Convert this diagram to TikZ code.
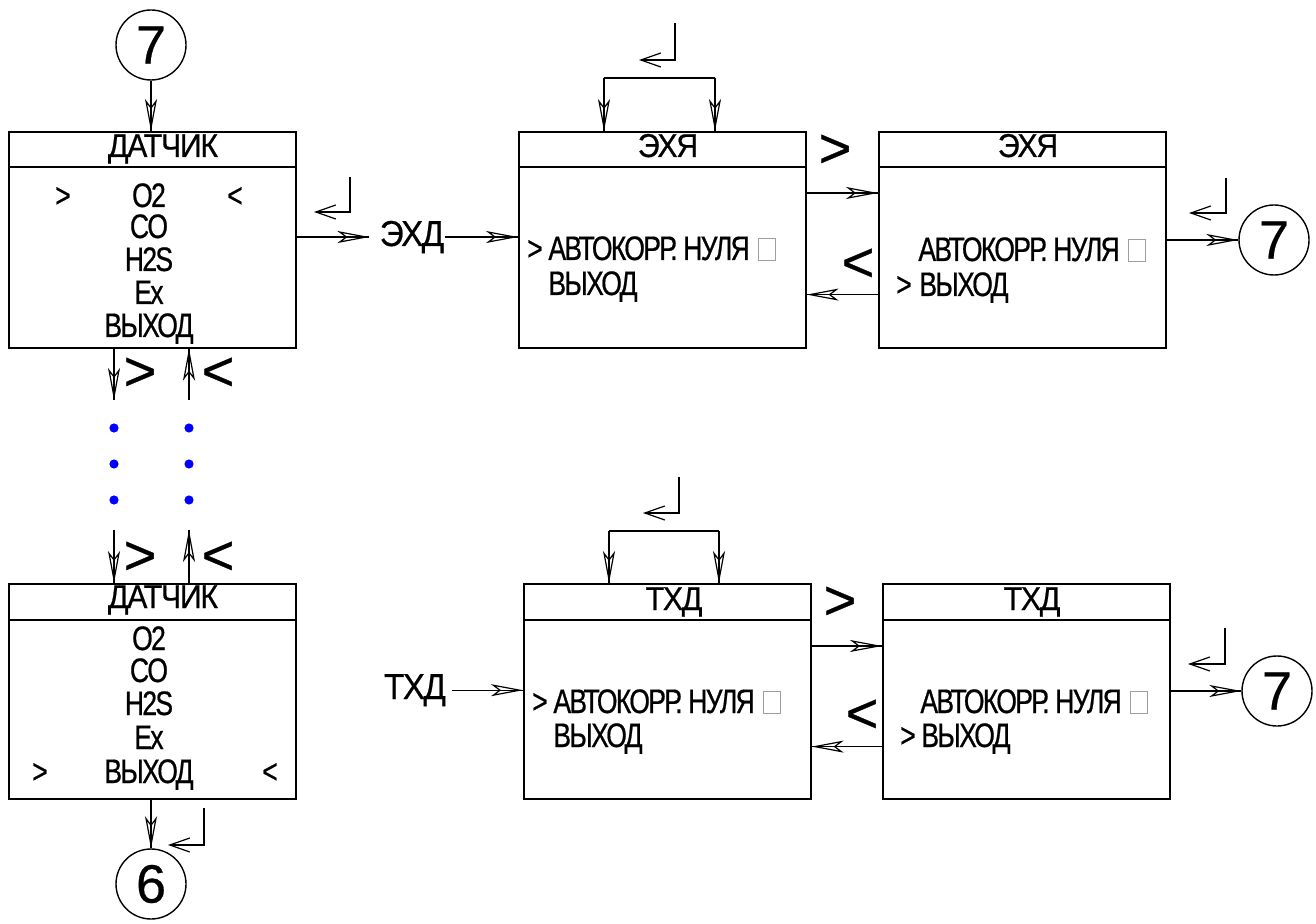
\documentclass[tikz,border=0pt]{standalone}
\usepackage{fontspec}
\setmainfont{Liberation Sans}
\newfontfamily\nf{Liberation Sans}[FakeStretch=0.78, LetterSpace=-5, FakeBold=0.6]
\newfontfamily\tf{Liberation Sans}[FakeStretch=0.92, LetterSpace=-4, FakeBold=0.6]
\newfontfamily\df{Liberation Sans}[FakeBold=0.5]
\usetikzlibrary{arrows.meta}
\newcommand\tofu{{\color{gray!75}\setlength\fboxsep{0pt}\setlength\fboxrule{0.55pt}\fbox{\rule{0pt}{10.5pt}\rule{8pt}{0pt}}}}
\begin{document}
\begin{tikzpicture}[x=0.5pt,y=-0.5pt,
  box/.style={draw, line width=0.8pt, inner sep=0pt, anchor=north west, minimum width=143.5pt},
  txt/.style={inner sep=0pt, font=\nf\fontsize{17}{17}\selectfont},
  ttl/.style={inner sep=0pt, anchor=base, font=\tf\fontsize{16.5}{16}\selectfont},
  lbl/.style={inner sep=0pt, anchor=base, font=\tf\fontsize{18}{18}\selectfont},
  big/.style={inner sep=0pt, font=\df\fontsize{28}{28}\selectfont},
  circ/.style={draw, circle, line width=0.7pt, minimum size=35pt, inner sep=0pt, font=\df\fontsize{27}{27}\selectfont},
  arr/.style={line width=0.7pt, -{Stealth[open, length=16pt, width=6pt, inset=4pt, line width=0.6pt]}, postaction={draw, line width=0.7pt, -}},
  ent/.style={line width=0.6pt, -{Straight Barb[length=10pt, width=7pt, line width=0.6pt]}},
  dot/.style={fill=blue}
]
\useasboundingbox (0,0) rectangle (1316,924);

% ---------- left column, top ----------
\node[circ] (c7a) at (151,45) {7};
\node[box, minimum height=17.5pt] (d1t) at (8,131) {};
\node[box, minimum height=90.5pt] (d1b) at (8,166) {};
\node[ttl] (d1ttl) at (163,157) {ДАТЧИК};
\node[txt, anchor=base] (d1a) at (149,207) {O2};
\node[txt, anchor=base] (d1b1) at (149,238) {CO};
\node[txt, anchor=base] (d1c) at (149,271) {H2S};
\node[txt, anchor=base] (d1d) at (149,304) {Ex};
\node[txt, anchor=base] (d1e) at (149,337) {ВЫХОД};
\node[txt, anchor=base] (d1gt) at (63,207) {>};
\node[txt, anchor=base] (d1lt) at (235,207) {<};
\draw[arr] (c7a.south) -- (c7a.south |- d1t.north);

% left column arrows and dots
\coordinate (dl1) at (114,400);
\coordinate (ul1) at (189,400);
\coordinate (dl2) at (114,530);
\coordinate (ul2) at (189,530);
\draw[arr] (dl1 |- d1b.south) -- (dl1);
\draw[arr] (ul1) -- (ul1 |- d1b.south);
\node[big] (g1) at (140,374) {>};
\node[big] (l1) at (218,374) {<};
\foreach \yy in {428,464,500} {
  \fill[dot] (114,\yy) circle (2.3pt);
  \fill[dot] (189,\yy) circle (2.3pt);
}
\node[box, minimum height=18pt] (d2t) at (8,583) {};
\node[box, minimum height=89.5pt] (d2b) at (8,619) {};
\draw[arr] (dl2) -- (dl2 |- d2t.north);
\draw[arr] (ul2 |- d2t.north) -- (ul2);
\node[big] (g2) at (140,558) {>};
\node[big] (l2) at (218,558) {<};
\node[ttl] (d2ttl) at (163,608) {ДАТЧИК};
\node[txt, anchor=base] (d2a) at (149,650) {O2};
\node[txt, anchor=base] (d2b1) at (149,682) {CO};
\node[txt, anchor=base] (d2c) at (149,715) {H2S};
\node[txt, anchor=base] (d2d) at (149,749) {Ex};
\node[txt, anchor=base] (d2e) at (149,783) {ВЫХОД};
\node[txt, anchor=base] (d2gt) at (40,783) {>};
\node[txt, anchor=base] (d2lt) at (270,783) {<};
\node[circ] (c6) at (151,884) {6};
\draw[arr] (d2b.south -| c6) -- (c6);
\draw[ent] (204,808) |- (168,845);

% ---------- ЭХД row ----------
\node[lbl] (exd) at (412,246) {ЭХД};
\draw[ent] (350,177) |- (314,212);
\draw[arr, shorten >=5pt] (d1b.east |- exd.west) -- (exd.west);

\node[box, minimum height=17.5pt] (e1t) at (518,131) {};
\node[box, minimum height=90.5pt] (e1b) at (518,166) {};
\node[ttl] (e1ttl) at (668,157) {ЭХЯ};
\draw[arr] (exd.east) -- (exd.east -| e1b.west);
\coordinate (e1l) at (604,78);
\coordinate (e1r) at (715,78);
\draw[line width=0.7pt] (e1l) -- (e1r);
\draw[arr] (e1l) -- (e1l |- e1t.north);
\draw[arr] (e1r) -- (e1r |- e1t.north);
\draw[ent] (675,23) |- (639,60);
\node[txt, anchor=base] (e1gt) at (535,260) {>};
\node[txt, anchor=base west] (e1m1) at (548,260) {АВТОКОРР. НУЛЯ\hspace{4pt}\tofu};
\node[txt, anchor=base west] (e1m2) at (548,295) {ВЫХОД};

\node[box, minimum height=17.5pt] (e2t) at (878,131) {};
\node[box, minimum height=90.5pt] (e2b) at (878,166) {};
\node[ttl] (e2ttl) at (1028,157) {ЭХЯ};
\node[txt, anchor=base west] (e2m1) at (918,261) {АВТОКОРР. НУЛЯ\hspace{4pt}\tofu};
\node[txt, anchor=base] (e2gt) at (904,296) {>};
\node[txt, anchor=base west] (e2m2) at (919,296) {ВЫХОД};
\draw[arr] ([yshift=-13.5pt]e1b.north east) -- ([yshift=-13.5pt]e2b.north west);
\draw[arr] ([yshift=27pt]e2b.south west) -- ([yshift=27pt]e1b.south east);
\node[big] (g3) at (835,151) {>};
\node[big] (l3) at (858,265) {<};
\node[circ] (c7b) at (1274,240) {7};
\draw[arr] (e2b.east |- c7b) -- (c7b);
\draw[ent] (1226,178) |- (1189,213);

% ---------- ТХД row ----------
\node[lbl] (txd) at (415,699) {ТХД};
\node[box, minimum height=18pt] (t1t) at (523,583) {};
\node[box, minimum height=89.5pt] (t1b) at (523,619) {};
\node[ttl] (t1ttl) at (674,610) {ТХД};
\draw[arr, shorten <=3pt] (txd.east) -- (txd.east -| t1b.west);
\coordinate (t1l) at (609,531);
\coordinate (t1r) at (719,531);
\draw[line width=0.7pt] (t1l) -- (t1r);
\draw[arr] (t1l) -- (t1l |- t1t.north);
\draw[arr] (t1r) -- (t1r |- t1t.north);
\draw[ent] (679,477) |- (643,513);
\node[txt, anchor=base] (t1gt) at (540,713) {>};
\node[txt, anchor=base west] (t1m1) at (553,713) {АВТОКОРР. НУЛЯ\hspace{4pt}\tofu};
\node[txt, anchor=base west] (t1m2) at (553,747) {ВЫХОД};

\node[box, minimum height=18pt] (t2t) at (882,583) {};
\node[box, minimum height=89.5pt] (t2b) at (882,619) {};
\node[ttl] (t2ttl) at (1032,610) {ТХД};
\node[txt, anchor=base west] (t2m1) at (920,713) {АВТОКОРР. НУЛЯ\hspace{4pt}\tofu};
\node[txt, anchor=base] (t2gt) at (908,747) {>};
\node[txt, anchor=base west] (t2m2) at (921,747) {ВЫХОД};
\draw[arr] ([yshift=-13.5pt]t1b.north east) -- ([yshift=-13.5pt]t2b.north west);
\draw[arr] ([yshift=26.5pt]t2b.south west) -- ([yshift=26.5pt]t1b.south east);
\node[big] (g4) at (840,603) {>};
\node[big] (l4) at (862,716) {<};
\node[circ] (c7c) at (1277,691) {7};
\draw[arr] (t2b.east |- c7c) -- (c7c);
\draw[ent] (1225,628) |- (1188,664);
\end{tikzpicture}
\end{document}
